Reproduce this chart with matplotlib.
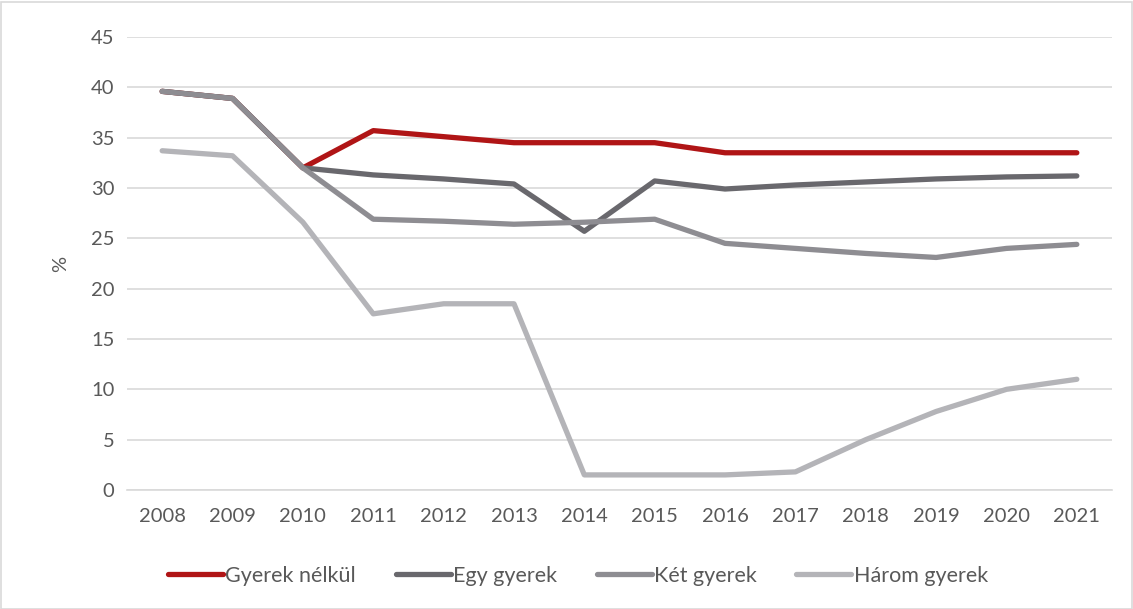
import matplotlib
matplotlib.use("Agg")
import matplotlib.pyplot as plt
from matplotlib.patches import Rectangle

years = [str(y) for y in range(2008, 2022)]
gyerek_nelkul = [39.6, 38.9, 32.0, 35.7, 35.1, 34.5, 34.5, 34.5, 33.5, 33.5, 33.5, 33.5, 33.5, 33.5]
egy_gyerek = [39.6, 38.9, 32.0, 31.3, 30.9, 30.4, 25.7, 30.7, 29.9, 30.3, 30.6, 30.9, 31.1, 31.2]
ket_gyerek = [39.6, 38.9, 32.0, 26.9, 26.7, 26.4, 26.6, 26.9, 24.5, 24.0, 23.5, 23.1, 24.0, 24.4]
harom_gyerek = [33.7, 33.2, 26.6, 17.5, 18.5, 18.5, 1.5, 1.5, 1.5, 1.8, 5.0, 7.8, 10.0, 11.0]
series_names = ["Gyerek nélkül", "Egy gyerek", "Két gyerek", "Három gyerek"]
colors = ["#B01516", "#69686D", "#8E8D92", "#B4B4B8"]
yticks = [0, 5, 10, 15, 20, 25, 30, 35, 40, 45]

plt.rcParams['font.family'] = ['Lato', 'DejaVu Sans']
txt = "#595959"

fig = plt.figure(figsize=(11.33, 6.09), dpi=100)
ax = fig.add_axes([127/1133, 1 - 490/609, (1112-127)/1133, (490-37)/609])

x = list(range(len(years)))
for vals, name, c in zip([gyerek_nelkul, egy_gyerek, ket_gyerek, harom_gyerek], series_names, colors):
    ax.plot(x, vals, color=c, lw=3.8, label=name, solid_capstyle='round', solid_joinstyle='round')

ax.set_xlim(-0.5, len(years) - 0.5)
ax.set_ylim(0, 45)
ax.set_yticks(yticks)
ax.set_xticks(x)
ax.set_xticklabels(years)
ax.grid(axis='y', color='#D9D9D9', lw=1.2)
ax.set_axisbelow(True)
for s in ['top', 'right', 'left']:
    ax.spines[s].set_visible(False)
ax.spines['bottom'].set_color('#D9D9D9')
ax.spines['bottom'].set_linewidth(1.2)
ax.tick_params(axis='both', length=0, labelsize=14.5, colors=txt, pad=9)
ax.tick_params(axis='x', pad=13)
ax.set_ylabel('%', fontsize=14.5, color=txt, labelpad=16)

leg = fig.legend(loc='center', bbox_to_anchor=(578/1133, 1 - 576/609), ncol=4, frameon=False,
                 fontsize=15.5, labelcolor=txt, handlelength=2.55, handletextpad=0.1, columnspacing=1.85)

fig.patches.append(Rectangle((0.5/1133, 0.5/609), 1 - 2/1133, 1 - 2/609, transform=fig.transFigure,
                             fill=False, edgecolor='#D9D9D9', lw=1.2))

fig.savefig('out.png', dpi=100)
